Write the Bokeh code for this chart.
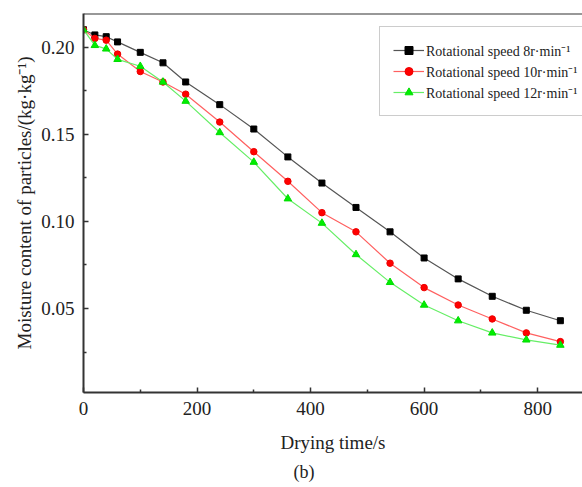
from bokeh.plotting import figure
from bokeh.models import FixedTicker, Legend, LegendItem, Span, Title, Range1d, CustomJSTickFormatter
from bokeh.embed import file_html
from bokeh.resources import INLINE

# ---- data ----
time_s = [0, 20, 40, 60, 100, 140, 180, 240, 300, 360, 420, 480, 540, 600, 660, 720, 780, 840]
speed8 = [0.210, 0.207, 0.206, 0.203, 0.197, 0.191, 0.180, 0.167, 0.153, 0.137,
          0.122, 0.108, 0.094, 0.079, 0.067, 0.057, 0.049, 0.043]
speed10 = [0.210, 0.205, 0.204, 0.196, 0.186, 0.180, 0.173, 0.157, 0.140, 0.123,
           0.105, 0.094, 0.076, 0.062, 0.052, 0.044, 0.036, 0.031]
speed12 = [0.210, 0.201, 0.199, 0.193, 0.189, 0.180, 0.169, 0.151, 0.134, 0.113,
           0.099, 0.081, 0.065, 0.052, 0.043, 0.036, 0.032, 0.029]
labels = ["Rotational speed 8r\u00b7min\u207b\u00b9",
          "Rotational speed 10r\u00b7min\u207b\u00b9",
          "Rotational speed 12r\u00b7min\u207b\u00b9"]
x_ticks = [0, 200, 400, 600, 800]
x_minor = [100, 300, 500, 700]
y_ticks = [0.05, 0.10, 0.15, 0.20]
y_minor = [0.025, 0.075, 0.125, 0.175]

FONT = "Liberation Serif"
AX = "#333333"
TXT = "#222222"
Y_TOP = 0.2193

p = figure(width=582, height=487, output_backend="svg", toolbar_location=None,
           x_range=Range1d(0, 879), y_range=Range1d(0.0018, Y_TOP),
           min_border_left=83, min_border_right=0, min_border_top=13,
           min_border_bottom=95, background_fill_color="white",
           border_fill_color="white")
p.outline_line_color = None
p.grid.visible = False

for ax in (p.xaxis[0], p.yaxis[0]):
    ax.axis_line_color = AX
    ax.axis_line_width = 2
    ax.major_tick_line_color = AX
    ax.minor_tick_line_color = AX
    ax.major_tick_line_width = 1.5
    ax.minor_tick_line_width = 1.5
    ax.major_tick_in = 5
    ax.major_tick_out = 0
    ax.minor_tick_in = 3
    ax.minor_tick_out = 0
    ax.major_label_text_font = FONT
    ax.major_label_text_font_size = "19px"
    ax.major_label_text_color = TXT
    ax.axis_label_text_font = FONT
    ax.axis_label_text_font_size = "19px"
    ax.axis_label_text_font_style = "normal"
    ax.axis_label_text_color = TXT

p.xaxis.ticker = FixedTicker(ticks=x_ticks, minor_ticks=x_minor)
p.yaxis.ticker = FixedTicker(ticks=y_ticks, minor_ticks=y_minor)
p.yaxis.formatter = CustomJSTickFormatter(code="return tick.toFixed(2);")
p.xaxis.axis_label = "Drying time/s"
p.yaxis.axis_label = "Moisture content of particles/(kg\u00b7kg\u207b\u00b9)"
p.xaxis.major_label_standoff = 9
p.yaxis.major_label_standoff = 9
p.xaxis.axis_label_standoff = 14
p.yaxis.axis_label_standoff = 3

# top frame line
p.add_layout(Span(location=Y_TOP, dimension="width", line_color=AX, line_width=2))

l1 = p.line(time_s, speed8, line_color="#555555", line_width=1.2)
m1 = p.scatter(time_s, speed8, marker="square", size=6, fill_color="black", line_color="black")
l2 = p.line(time_s, speed10, line_color="#ff6060", line_width=1.2)
m2 = p.scatter(time_s, speed10, marker="circle", size=6.5, fill_color="#ff0000", line_color="#ee0000")
l3 = p.line(time_s, speed12, line_color="#66ee66", line_width=1.2)
m3 = p.scatter(time_s, speed12, marker="triangle", size=7.5, fill_color="#00ee00", line_color="#00dd00")

legend = Legend(items=[LegendItem(label=labels[0], renderers=[l1, m1]),
                       LegendItem(label=labels[1], renderers=[l2, m2]),
                       LegendItem(label=labels[2], renderers=[l3, m3])],
                location=(296, 276), padding=13, margin=0, spacing=1,
                glyph_width=31, glyph_height=20, label_height=20,
                label_width=142, label_standoff=2,
                label_text_font=FONT, label_text_font_size="14px",
                label_text_color=TXT,
                border_line_color="#999999", border_line_width=1.2,
                background_fill_alpha=1.0)
p.add_layout(legend)

p.add_layout(Title(text="(b)", align="left", offset=210, standoff=8,
                   text_font=FONT, text_font_size="18px", text_font_style="normal",
                   text_color=TXT), "below")

open("out.html", "w").write(file_html(p, INLINE))
